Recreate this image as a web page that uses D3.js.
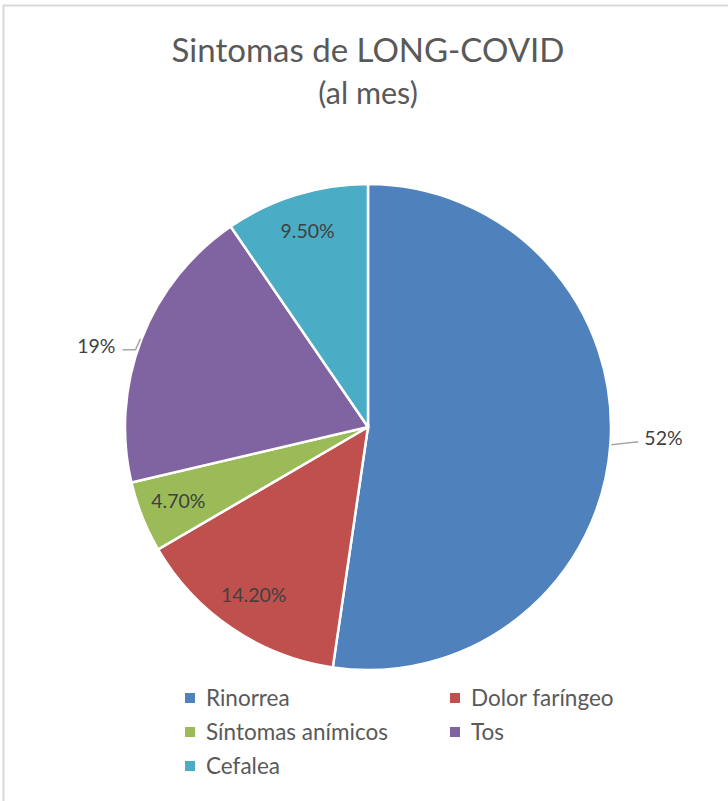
<!DOCTYPE html>
<html>
<head>
<meta charset="utf-8">
<script src="https://cdn.jsdelivr.net/npm/d3@7"></script>
<style>
  body { margin: 0; background: #fff; }
  text { font-family: Lato, "Open Sans", sans-serif; }
</style>
</head>
<body>
<div id="chart"></div>
<script>
var categories = ["Rinorrea", "Dolor faríngeo", "Síntomas anímicos", "Tos", "Cefalea"];
var values = [52, 14.2, 4.7, 19, 9.5];
var labels = ["52%", "14.20%", "4.70%", "19%", "9.50%"];
var colors = ["#4F81BD", "#C0504D", "#9BBB59", "#8064A2", "#4BACC6"];
var outsideLabel = [true, false, false, true, false];

var width = 728, height = 801;
var cx = 368, cy = 427, radius = 243;

// leader line shape for the outside labels: [elbow dx, elbow dy, horizontal run]
var leaderShape = { 0: [27, -3, 0], 3: [-5, 11, 13] };

var svg = d3.select("#chart")
  .append("svg")
  .attr("width", width)
  .attr("height", height);

// chart area border (right/bottom edges are cut off in the original)
svg.append("rect")
  .attr("x", 3.5).attr("y", 5.5)
  .attr("width", width + 10).attr("height", height + 10)
  .attr("fill", "none")
  .attr("stroke", "#d9d9d9")
  .attr("stroke-width", 2);

// title
svg.append("text")
  .attr("x", cx).attr("y", 62)
  .attr("text-anchor", "middle")
  .style("font-size", "33px")
  .style("fill", "#595959")
  .text("Sintomas de LONG-COVID");
svg.append("text")
  .attr("x", cx).attr("y", 104)
  .attr("text-anchor", "middle")
  .style("font-size", "30.5px")
  .style("fill", "#595959")
  .text("(al mes)");

var data = categories.map(function(c, i) {
  return { idx: i, name: c, value: values[i], label: labels[i], color: colors[i], outside: outsideLabel[i] };
});

var pie = d3.pie().sort(null).value(function(d) { return d.value; });
var arc = d3.arc().innerRadius(0).outerRadius(radius);
var labelArc = d3.arc().innerRadius(radius * 0.84).outerRadius(radius * 0.84);

var g = svg.append("g")
  .attr("transform", "translate(" + cx + "," + cy + ")");

var arcs = pie(data);

g.selectAll(".slice")
  .data(arcs)
  .enter().append("path")
  .attr("class", "slice")
  .attr("d", arc)
  .attr("fill", function(d) { return d.data.color; })
  .attr("stroke", "#fff")
  .attr("stroke-width", 2.5);

// inside labels
g.selectAll(".lblIn")
  .data(arcs.filter(function(d) { return !d.data.outside; }))
  .enter().append("text")
  .attr("class", "lblIn")
  .attr("transform", function(d) { return "translate(" + labelArc.centroid(d) + ")"; })
  .attr("text-anchor", "middle")
  .attr("dy", "0.3em")
  .style("font-size", "19.5px")
  .style("fill", "#404040")
  .text(function(d) { return d.data.label; });

// outside labels with leader lines
function pt(angle, r) {
  return [r * Math.sin(angle), -r * Math.cos(angle)];
}
var outs = arcs.filter(function(d) { return d.data.outside; });
outs.forEach(function(d) {
  var a = (d.startAngle + d.endAngle) / 2;
  var s = leaderShape[d.data.idx];
  var right = Math.sin(a) > 0;
  var p0 = pt(a, radius + 1);
  var p1 = [p0[0] + s[0], p0[1] + s[1]];
  var p2 = [p1[0] + (right ? s[2] : -s[2]), p1[1]];
  g.append("polyline")
    .attr("points", [p0, p1, p2].map(function(p) { return p.join(","); }).join(" "))
    .attr("fill", "none")
    .attr("stroke", "#a6a6a6")
    .attr("stroke-width", 1.5);
  g.append("text")
    .attr("x", p2[0] + (right ? 6 : -7))
    .attr("y", p2[1] - 4)
    .attr("text-anchor", right ? "start" : "end")
    .attr("dy", "0.35em")
    .style("font-size", "19.5px")
    .style("fill", "#404040")
    .text(d.data.label);
});

// legend
var legendX = [190, 455];
var legendY = [698, 732, 766];
var legend = svg.selectAll(".legend")
  .data(data)
  .enter().append("g")
  .attr("class", "legend")
  .attr("transform", function(d, i) {
    return "translate(" + legendX[i % 2] + "," + legendY[Math.floor(i / 2)] + ")";
  });
legend.append("rect")
  .attr("x", -5).attr("y", -5)
  .attr("width", 10).attr("height", 10)
  .attr("fill", function(d) { return d.color; });
legend.append("text")
  .attr("x", 16)
  .attr("dy", "0.36em")
  .style("font-size", "22.5px")
  .style("fill", "#595959")
  .text(function(d) { return d.name; });
</script>
</body>
</html>
